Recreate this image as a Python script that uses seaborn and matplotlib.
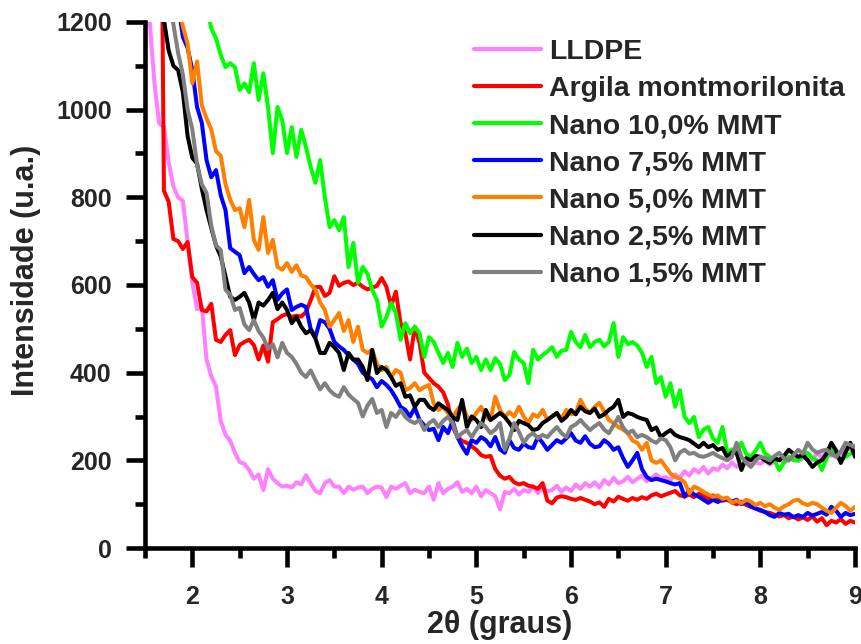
import numpy as np
import pandas as pd
import matplotlib
matplotlib.use("Agg")
import matplotlib.pyplot as plt
from matplotlib.ticker import MultipleLocator
import seaborn as sns

# Scan grid for 2-theta (degrees)
two_theta = np.round(np.arange(1.5, 9.0001, 0.05), 2)
nan = np.nan

lldpe = [
    1400, 1200, 1060, 968, 962, 880, 825, 800, 792, 700,
    605, 545, 552, 430, 392, 368, 290, 258, 245, 217,
    196, 192, 178, 158, 168, 132, 180, 158, 148, 140,
    142, 138, 150, 145, 166, 148, 130, 125, 148, 155,
    140, 140, 125, 140, 133, 138, 140, 125, 135, 140,
    138, 116, 140, 135, 142, 148, 125, 133, 128, 125,
    140, 110, 148, 125, 135, 140, 150, 128, 135, 125,
    140, 118, 132, 125, 118, 88, 128, 125, 135, 122,
    132, 128, 140, 125, 138, 130, 132, 142, 128, 138,
    130, 145, 135, 148, 140, 150, 138, 155, 145, 160,
    148, 152, 162, 150, 158, 165, 152, 160, 168, 158,
    162, 155, 168, 160, 175, 165, 180, 172, 185, 170,
    182, 178, 190, 182, 195, 185, 190, 198, 188, 195,
    192, 200, 190, 198, 205, 195, 200, 208, 198, 205,
    212, 200, 218, 205, 225, 210, 222, 215, 230, 225,
    235,
]

argila = [
    2600, 2450, 2300, 2100, 815, 790, 705, 700, 682, 698,
    618, 605, 543, 540, 557, 475, 470, 486, 497, 440,
    463, 470, 475, 463, 430, 462, 425, 515, 522, 530,
    534, 527, 530, 528, 538, 565, 595, 596, 575, 582,
    620, 598, 605, 608, 600, 605, 596, 590, 594, 598,
    616, 596, 552, 585, 512, 490, 430, 505, 468, 400,
    388, 376, 368, 355, 328, 276, 255, 244, 240, 232,
    224, 212, 208, 210, 180, 165, 158, 162, 150, 145,
    148, 142, 140, 135, 148, 108, 102, 115, 118, 116,
    112, 110, 114, 110, 106, 100, 104, 94, 112, 106,
    117, 112, 108, 114, 110, 116, 112, 120, 124, 118,
    122, 126, 130, 120, 118, 122, 116, 124, 118, 112,
    120, 114, 108, 110, 104, 100, 106, 98, 94, 90,
    85, 82, 80, 76, 72, 75, 68, 72, 65, 70,
    64, 72, 60, 68, 52, 62, 58, 66, 55, 62,
    58,
]

nano_10 = [
    nan, nan, nan, nan, nan, nan, nan, nan, nan, nan,
    nan, nan, nan, 1240, 1185, 1163, 1125, 1097, 1106, 1097,
    1045, 1060, 1040, 1106, 1022, 1083, 1005, 901, 1006, 975,
    901, 960, 892, 954, 915, 869, 833, 885, 800, 732,
    748, 725, 755, 641, 696, 605, 641, 626, 589, 566,
    505, 527, 559, 536, 475, 513, 490, 505, 490, 436,
    481, 470, 445, 422, 445, 413, 468, 436, 455, 422,
    436, 406, 430, 406, 433, 420, 383, 395, 447, 430,
    422, 376, 452, 430, 440, 448, 458, 436, 450, 452,
    493, 470, 458, 486, 458, 470, 475, 460, 470, 513,
    436, 481, 465, 470, 462, 445, 413, 436, 376, 390,
    345, 376, 322, 360, 299, 285, 299, 253, 270, 276,
    250, 240, 276, 217, 225, 217, 240, 215, 208, 222,
    240, 215, 208, 200, 178, 195, 208, 200, 200, 210,
    217, 205, 200, 178, 205, 224, 210, 200, 208, 215,
    224,
]

nano_75 = [
    nan, nan, nan, nan, nan, nan, nan, 1240, 1166, 1141,
    1090, 1006, 970, 885, 846, 862, 805, 771, 684, 676,
    668, 627, 641, 625, 611, 618, 596, 611, 566, 581,
    590, 543, 550, 555, 550, 500, 481, 520, 515, 500,
    470, 460, 452, 440, 430, 420, 400, 392, 385, 367,
    381, 372, 360, 342, 322, 315, 300, 320, 292, 280,
    269, 272, 246, 276, 262, 290, 253, 232, 215, 246,
    240, 253, 246, 232, 253, 225, 217, 246, 228, 224,
    238, 230, 228, 253, 240, 224, 235, 246, 240, 250,
    262, 245, 240, 255, 238, 230, 232, 246, 238, 224,
    230, 205, 185, 200, 217, 180, 162, 155, 158, 155,
    152, 148, 145, 148, 117, 132, 122, 117, 110, 103,
    110, 105, 110, 112, 106, 110, 100, 105, 95, 90,
    87, 82, 75, 71, 80, 76, 78, 70, 75, 71,
    80, 74, 78, 82, 76, 94, 85, 71, 80, 75,
    78,
]

nano_50 = [
    nan, nan, nan, nan, nan, nan, nan, 1240, 1190, 1150,
    1060, 1110, 1010, 980, 955, 905, 895, 830, 795, 771,
    775, 732, 794, 703, 680, 755, 673, 703, 641, 635,
    650, 630, 645, 622, 618, 602, 589, 560, 543, 505,
    520, 536, 495, 520, 470, 505, 452, 445, 452, 420,
    406, 413, 390, 406, 400, 360, 365, 376, 360, 367,
    372, 330, 315, 322, 308, 299, 315, 330, 300, 292,
    308, 322, 299, 292, 345, 315, 299, 310, 300, 322,
    300, 285, 305, 299, 315, 292, 300, 308, 295, 315,
    305, 308, 338, 318, 308, 322, 331, 312, 292, 285,
    276, 270, 262, 245, 240, 224, 240, 200, 194, 200,
    185, 170, 162, 158, 150, 125, 140, 135, 128, 122,
    117, 120, 112, 115, 103, 108, 102, 110, 106, 98,
    103, 95, 100, 92, 87, 95, 100, 108, 110, 102,
    98, 103, 100, 92, 85, 80, 92, 103, 96, 85,
    94,
]

nano_25 = [
    nan, nan, nan, 1260, 1205, 1135, 1100, 1090, 1040, 940,
    890, 877, 820, 771, 730, 690, 665, 620, 573, 566,
    573, 582, 560, 520, 560, 553, 566, 582, 545, 560,
    543, 513, 527, 505, 490, 497, 478, 445, 445, 468,
    458, 445, 406, 445, 430, 430, 413, 383, 452, 399,
    413, 406, 390, 370, 376, 345, 348, 322, 338, 338,
    322, 315, 330, 322, 315, 299, 292, 338, 276, 300,
    292, 276, 315, 292, 300, 308, 299, 285, 269, 290,
    285, 280, 269, 272, 285, 292, 300, 308, 290, 299,
    315, 305, 322, 312, 308, 318, 299, 305, 315, 322,
    338, 299, 308, 305, 299, 295, 292, 269, 275, 253,
    262, 269, 258, 253, 250, 246, 238, 230, 240, 230,
    235, 224, 228, 208, 218, 217, 178, 205, 200, 210,
    208, 200, 194, 205, 200, 210, 224, 215, 208, 212,
    200, 185, 195, 200, 215, 240, 222, 194, 218, 240,
    208,
]

nano_15 = [
    nan, nan, nan, nan, nan, 1260, 1195, 1129, 1080, 1000,
    955, 875, 830, 810, 735, 690, 680, 589, 578, 543,
    548, 510, 497, 520, 495, 480, 455, 465, 435, 468,
    445, 436, 420, 400, 390, 405, 383, 362, 376, 360,
    350, 345, 367, 350, 340, 331, 300, 325, 340, 308,
    315, 276, 308, 299, 315, 299, 290, 285, 292, 269,
    285, 292, 276, 290, 299, 285, 253, 262, 269, 253,
    270, 285, 276, 262, 270, 285, 224, 250, 285, 265,
    240, 255, 262, 250, 258, 253, 265, 276, 262, 253,
    276, 282, 292, 280, 269, 278, 285, 270, 262, 280,
    299, 275, 262, 268, 253, 258, 253, 245, 240, 250,
    246, 230, 200, 218, 224, 215, 217, 210, 208, 212,
    217, 210, 205, 200, 208, 240, 208, 195, 185, 200,
    208, 205, 200, 210, 217, 205, 200, 212, 224, 215,
    240, 225, 217, 222, 224, 215, 208, 220, 240, 235,
    230,
]

sample_names = [
    "LLDPE",
    "Argila montmorilonita",
    "Nano 10,0% MMT",
    "Nano 7,5% MMT",
    "Nano 5,0% MMT",
    "Nano 2,5% MMT",
    "Nano 1,5% MMT",
]
sample_series = [lldpe, argila, nano_10, nano_75, nano_50, nano_25, nano_15]
sample_colors = ["#FF80FF", "#FF0000", "#00FF00", "#0000FF", "#FF8000", "#000000", "#808080"]

x_ticks = [2, 3, 4, 5, 6, 7, 8, 9]
y_ticks = [0, 200, 400, 600, 800, 1000, 1200]

frames = []
for name, values in zip(sample_names, sample_series):
    frames.append(pd.DataFrame({"2theta": two_theta,
                                "intensidade": np.asarray(values, dtype=float),
                                "amostra": name}))
df = pd.concat(frames, ignore_index=True).dropna()

sns.set_style("ticks")
plt.rcParams["font.family"] = ["Liberation Sans", "DejaVu Sans"]
plt.rcParams["font.weight"] = "bold"
plt.rcParams["axes.labelweight"] = "bold"

fig = plt.figure(figsize=(8.61, 6.44), dpi=100)
ax = fig.add_axes([145 / 861, 96 / 644, 710 / 861, 526 / 644])

sns.lineplot(data=df, x="2theta", y="intensidade", hue="amostra",
             hue_order=sample_names, palette=sample_colors,
             estimator=None, sort=False, linewidth=2.9, ax=ax)

ax.set_xlim(1.5, 9.0)
ax.set_ylim(0, 1200)
ax.set_xticks(x_ticks)
ax.set_yticks(y_ticks)
ax.xaxis.set_minor_locator(MultipleLocator(0.5))
ax.yaxis.set_minor_locator(MultipleLocator(100))

for side in ("top", "right"):
    ax.spines[side].set_visible(False)
for side in ("left", "bottom"):
    ax.spines[side].set_linewidth(3.3)
    ax.spines[side].set_color("black")

ax.tick_params(which="major", direction="out", length=14, width=3.3,
               labelsize=18, color="black")
ax.tick_params(which="minor", direction="out", length=7, width=3.3, color="black")
ax.tick_params(axis="x", which="major", pad=13)
ax.tick_params(axis="y", which="major", pad=10)
for lab in ax.get_xticklabels() + ax.get_yticklabels():
    lab.set_fontweight("bold")

ax.set_xlabel("2θ (graus)", fontsize=22, fontweight="bold")
ax.set_ylabel("Intensidade (u.a.)", fontsize=22, fontweight="bold")
ax.xaxis.set_label_coords(0.5, -0.118)
ax.yaxis.set_label_coords(-0.147, 0.5285)

sns.move_legend(ax, "upper left",
                bbox_to_anchor=(474 / 861, (644 - 39) / 644),
                bbox_transform=fig.transFigure,
                frameon=False, title=None,
                prop={"size": 20.5, "weight": "bold"},
                handlelength=2.35, handletextpad=0.28,
                labelspacing=0.39, borderpad=0, borderaxespad=0)
for line in ax.get_legend().get_lines():
    line.set_linewidth(3.0)

fig.savefig("out.png", dpi=100)
